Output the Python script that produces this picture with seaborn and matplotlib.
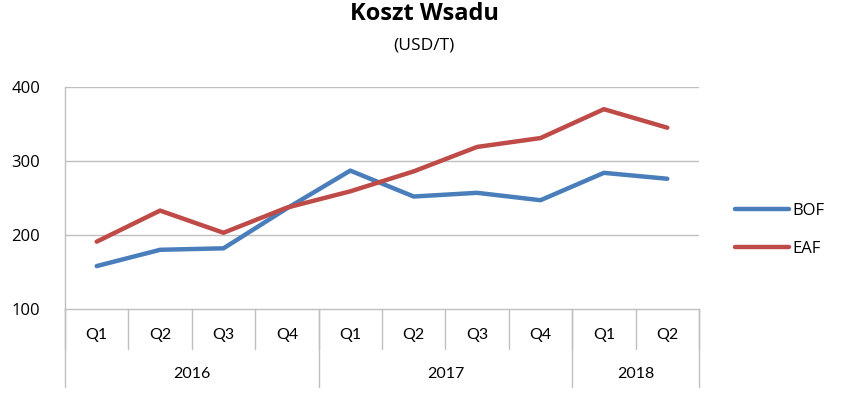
import matplotlib
matplotlib.use("Agg")
import matplotlib.pyplot as plt
import matplotlib.transforms as mtransforms
import seaborn as sns
import pandas as pd

years = ["2016", "2017", "2018"]
quarters_per_year = [["Q1", "Q2", "Q3", "Q4"], ["Q1", "Q2", "Q3", "Q4"], ["Q1", "Q2"]]
bof = [158, 180, 182, 236, 287, 252, 257, 247, 284, 276]
eaf = [191, 233, 203, 237, 259, 286, 319, 331, 370, 345]
yticks = [100, 200, 300, 400]

periods = [f"{y} {q}" for y, qs in zip(years, quarters_per_year) for q in qs]
df = pd.DataFrame({
    "period": periods * 2,
    "value": bof + eaf,
    "series": ["BOF"] * len(bof) + ["EAF"] * len(eaf),
})

sns.set_theme(style="white")
plt.rcParams["font.family"] = ["Open Sans", "DejaVu Sans"]
plt.rcParams["text.color"] = "black"
plt.rcParams["ytick.color"] = "black"

cat_font = ["Lato", "DejaVu Sans"]
cat_size = 11.5

fig = plt.figure(figsize=(8.44, 3.99), dpi=100)
ax = fig.add_axes([65 / 844, 1 - 309 / 399, (699 - 65) / 844, (309 - 87) / 399])

palette = {"BOF": "#4A7EBB", "EAF": "#BE4B48"}
sns.lineplot(data=df, x="period", y="value", hue="series", palette=palette,
             linewidth=3.2, ax=ax, sort=False, legend=True)

grid_c = "#BFBFBF"
ax.set_ylim(100, 400)
ax.set_xlim(-0.5, len(periods) - 0.5)
ax.set_yticks(yticks)
ax.set_yticklabels([str(v) for v in yticks], fontsize=12, color="black")
ax.tick_params(axis="y", length=0, pad=18)
ax.set_xticks([])
ax.set_xlabel("")
ax.set_ylabel("")
for v in yticks[1:]:
    ax.axhline(v, color=grid_c, linewidth=1.0, zorder=0)
for s in ["top", "right"]:
    ax.spines[s].set_visible(False)
ax.spines["left"].set_color(grid_c)
ax.spines["left"].set_linewidth(1.0)
ax.spines["bottom"].set_color(grid_c)
ax.spines["bottom"].set_linewidth(1.0)

# multi-level category axis
trans = mtransforms.blended_transform_factory(ax.transData, ax.transAxes)
h = (309 - 87)
tier1 = -(349 - 309) / h
tier2 = -(387 - 309) / h
qlab = -(335 - 309) / h
ylab = -(374 - 309) / h
n = len(periods)
for i in range(n + 1):
    x = i - 0.5
    ax.plot([x, x], [0, tier1], color=grid_c, lw=1.0, transform=trans, clip_on=False)
idx = 0
bounds = [0]
for y, qs in zip(years, quarters_per_year):
    for q in qs:
        ax.text(idx, qlab, q, transform=trans, ha="center", va="center",
                fontsize=cat_size, family=cat_font, color="black")
        idx += 1
    bounds.append(idx)
for b in bounds:
    ax.plot([b - 0.5, b - 0.5], [0, tier2], color=grid_c, lw=1.0, transform=trans, clip_on=False)
for k, y in enumerate(years):
    ax.text((bounds[k] + bounds[k + 1] - 1) / 2, ylab, y, transform=trans,
            ha="center", va="center", fontsize=cat_size, family=cat_font, color="black")

# legend
handles, labels = ax.get_legend_handles_labels()
ax.legend_.remove()
leg = fig.legend(handles, labels, loc="center left", bbox_to_anchor=(735 / 844, 1 - 230 / 399),
                 frameon=False, fontsize=12, handlelength=3.25, labelspacing=1.3,
                 handletextpad=0.2, borderpad=0, borderaxespad=0)
for t in leg.get_texts():
    t.set_color("black")

fig.text(424 / 844, 1 - 14 / 399, "Koszt Wsadu", ha="center", va="center",
         fontsize=17, fontweight="bold", color="black")
fig.text(424 / 844, 1 - 46 / 399, "(USD/T)", ha="center", va="center", fontsize=12.5,
         color="black")

fig.savefig("out.png", dpi=100)
